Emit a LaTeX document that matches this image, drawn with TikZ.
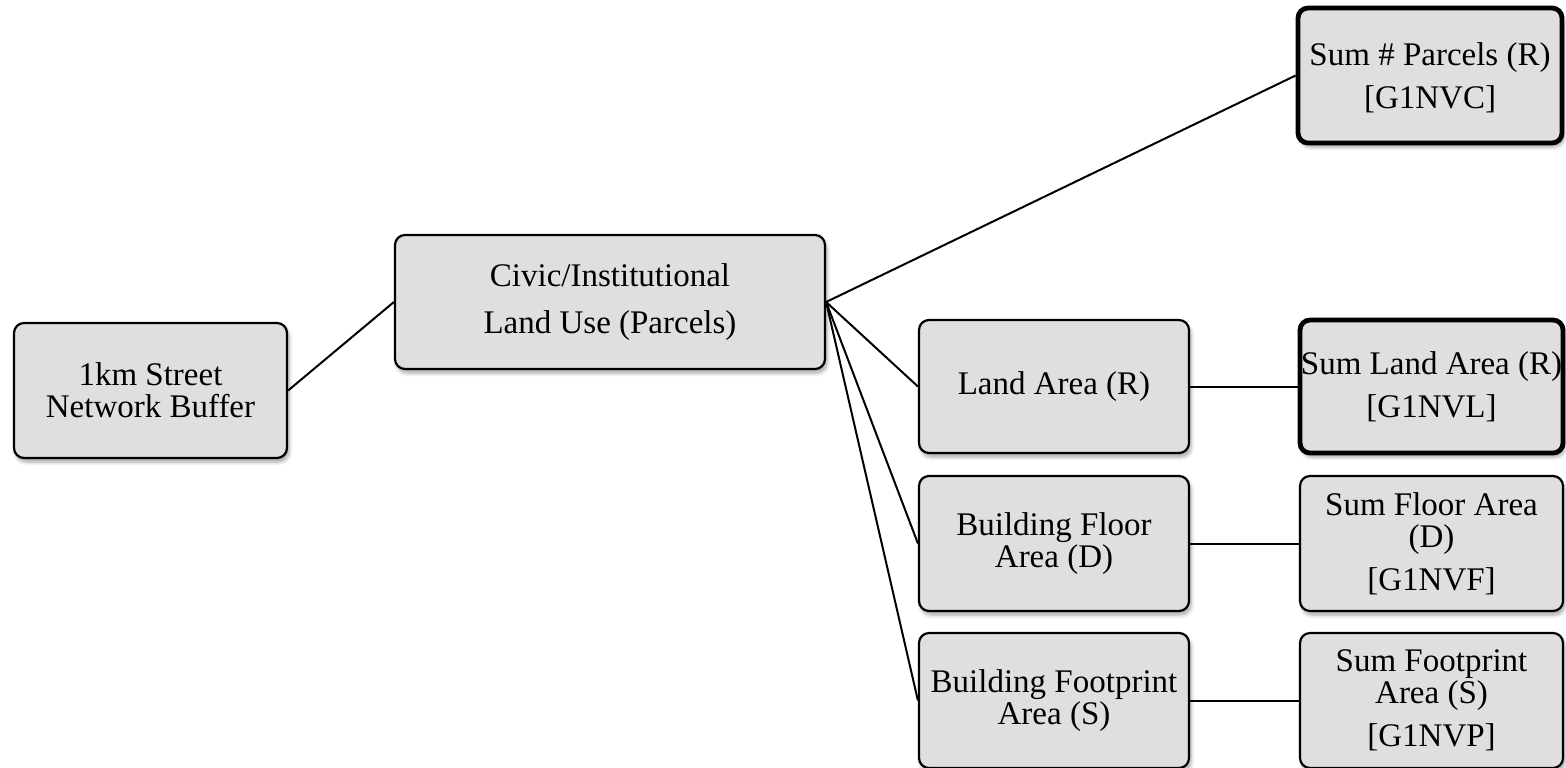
\documentclass[tikz,border=0pt]{standalone}
\usepackage{fontspec}
\setmainfont{Liberation Serif}
\usetikzlibrary{shadows.blur}
\definecolor{boxgray}{HTML}{DFDFDF}
\begin{document}
\begin{tikzpicture}[x=0.5pt,y=-0.5pt,
  box/.style={draw=black, line width=1.1pt, fill=boxgray, rounded corners=5pt,
    align=center, inner sep=0pt, font=\fontsize{16.5}{16}\selectfont,
    blur shadow={shadow xshift=1pt, shadow yshift=-2pt, shadow blur steps=6, shadow opacity=35}},
  thickbox/.style={box, line width=2.4pt},
  link/.style={draw=black, line width=1pt}]
\useasboundingbox (0,0) rectangle (1566,767);

\node[box, minimum width=136.5pt, minimum height=67.5pt] (a) at (150.5,390.5)
  {1km Street\\Network Buffer};
\node[box, minimum width=215pt, minimum height=67pt] (b) at (610,302)
  {Civic/Institutional\\[7.5pt]Land Use (Parcels)};
\node[thickbox, minimum width=132pt, minimum height=67.5pt] (c) at (1430,75.5)
  {\rule{0pt}{14pt}Sum \# Parcels (R)\\[5.5pt][G1NVC]};
\node[box, minimum width=135pt, minimum height=66.5pt] (d) at (1054,386.5)
  {Land Area (R)};
\node[thickbox, minimum width=131.5pt, minimum height=66.5pt] (e) at (1431.5,386.5)
  {Sum Land Area (R)\\[5.5pt][G1NVL]};
\node[box, minimum width=135pt, minimum height=67.5pt] (f) at (1054,543.5)
  {Building Floor\\Area (D)};
\node[box, minimum width=131.5pt, minimum height=67.5pt] (g) at (1431.5,543.5)
  {Sum Floor Area\\(D)\\[5.5pt][G1NVF]};
\node[box, minimum width=135pt, minimum height=67.5pt] (h) at (1054,700.5)
  {Building Footprint\\Area (S)};
\node[box, minimum width=131.5pt, minimum height=67.5pt] (i) at (1431.5,700.5)
  {Sum Footprint\\Area (S)\\[5.5pt][G1NVP]};

\draw[link] (a.east) -- (b.west);
\draw[link] (b.east) -- (c.west);
\draw[link] (b.east) -- (d.west);
\draw[link] (b.east) -- (f.west);
\draw[link] (b.east) -- (h.west);
\draw[link] (d.east) -- (e.west);
\draw[link] (f.east) -- (g.west);
\draw[link] (h.east) -- (i.west);
\end{tikzpicture}
\end{document}
